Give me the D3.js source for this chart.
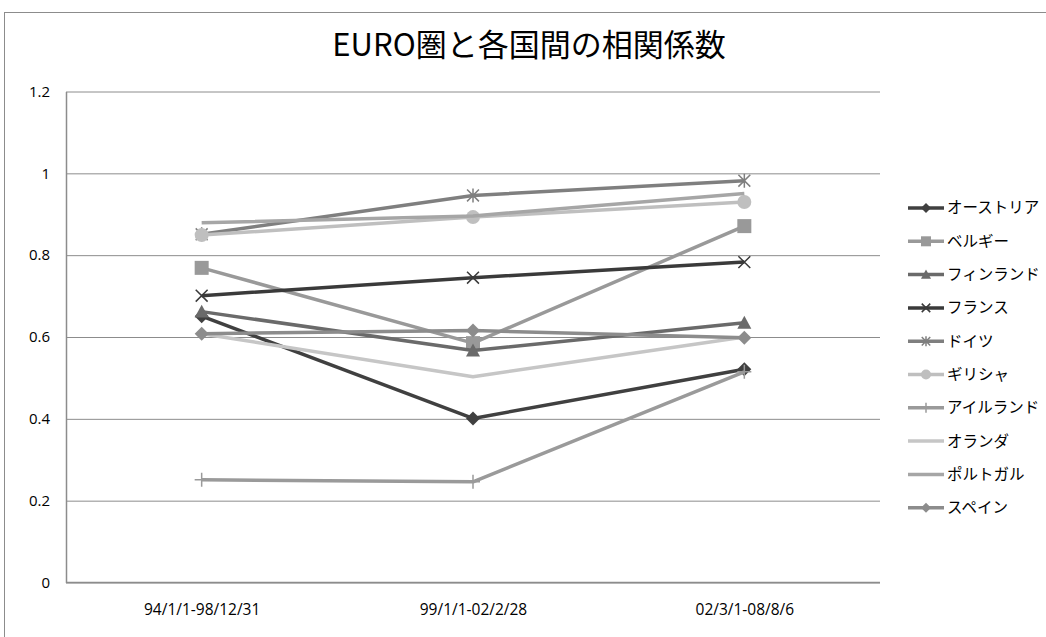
<!DOCTYPE html>
<html>
<head>
<meta charset="utf-8">
<script src="https://cdn.jsdelivr.net/npm/d3@7"></script>
<style>
  body { margin: 0; background: #fff; }
  svg { display: block; }
  .tick text { fill: #000; }
</style>
</head>
<body>
<svg id="chart"></svg>
<script>
// Chart data
const periods = ['94/1/1-98/12/31', '99/1/1-02/2/28', '02/3/1-08/8/6']
const countries = ['オーストリア', 'ベルギー', 'フィンランド', 'フランス', 'ドイツ',
  'ギリシャ', 'アイルランド', 'オランダ', 'ポルトガル', 'スペイン']
const austria = [0.651, 0.401, 0.521]
const belgium = [0.769, 0.585, 0.871]
const finland = [0.662, 0.567, 0.635]
const france = [0.701, 0.745, 0.783]
const germany = [0.851, 0.946, 0.982]
const greece = [0.849, 0.893, 0.930]
const ireland = [0.251, 0.246, 0.515]
const netherlands = [0.608, 0.503, 0.600]
const portugal = [0.879, 0.896, 0.951]
const spain = [0.608, 0.616, 0.598]
const yTicks = [0, 0.2, 0.4, 0.6, 0.8, 1, 1.2]

const seriesValues = [austria, belgium, finland, france, germany,
  greece, ireland, netherlands, portugal, spain]
const colors = ['#404040', '#999999', '#6a6a6a', '#3a3a3a', '#7f7f7f',
  '#bfbfbf', '#9a9a9a', '#c6c6c6', '#a6a6a6', '#8c8c8c']
const markers = ['diamond', 'square', 'triangle', 'x', 'asterisk',
  'circle', 'plus', 'none', 'none', 'diamond']

const svgWidth = 1046
const svgHeight = 637
const plot = { left: 66, right: 880, top: 91.5, bottom: 582.5 }

const svg = d3.select('#chart')
  .attr('width', svgWidth)
  .attr('height', svgHeight)

// Chart area border
svg.append('rect')
  .attr('x', 4.5).attr('y', 12.5)
  .attr('width', 1200).attr('height', 800)
  .attr('fill', '#fff')
  .attr('stroke', '#8c8c8c')

svg.append('text')
  .attr('x', 529)
  .attr('y', 56)
  .attr('text-anchor', 'middle')
  .style('font-family', '"Noto Sans CJK JP", sans-serif')
  .style('font-size', '31px')
  .text('EURO圏と各国間の相関係数')

const x = d3.scalePoint()
  .domain(periods)
  .range([plot.left, plot.right])
  .padding(0.5)

const y = d3.scaleLinear()
  .domain([0, 1.2])
  .range([plot.bottom, plot.top])

// Gridlines
svg.append('g')
  .attr('transform', `translate(${plot.left},0)`)
  .call(d3.axisLeft(y).tickValues(yTicks).tickSize(-(plot.right - plot.left)).tickFormat(''))
  .call(g => g.select('.domain').remove())
  .call(g => g.selectAll('.tick line').attr('stroke', '#8c8c8c'))

// Y axis
svg.append('g')
  .attr('transform', `translate(${plot.left},0)`)
  .call(d3.axisLeft(y).tickValues(yTicks).tickSize(0).tickPadding(16).tickFormat(d3.format('')))
  .call(g => g.select('.domain').attr('stroke', '#8c8c8c').attr('stroke-width', 1.5))
  .call(g => g.selectAll('.tick text')
    .style('font-family', '"Open Sans", sans-serif')
    .style('font-size', '15px'))

// X axis
svg.append('g')
  .attr('transform', `translate(0,${plot.bottom})`)
  .call(d3.axisBottom(x).tickSize(0).tickPadding(21))
  .call(g => g.select('.domain').attr('d', `M${plot.left},0H${plot.right}`)
    .attr('stroke', '#8c8c8c').attr('stroke-width', 1.5))
  .call(g => g.selectAll('.tick text')
    .style('font-family', '"Open Sans", sans-serif')
    .style('font-size', '15.5px'))

function drawMarker (g, type, color, s) {
  if (type === 'diamond') {
    g.append('path').attr('d', `M0,${-s}L${s},0L0,${s}L${-s},0Z`).attr('fill', color)
  } else if (type === 'square') {
    g.append('rect').attr('x', -s).attr('y', -s).attr('width', 2 * s).attr('height', 2 * s).attr('fill', color)
  } else if (type === 'triangle') {
    g.append('path').attr('d', `M0,${-s}L${s},${s * 0.85}L${-s},${s * 0.85}Z`).attr('fill', color)
  } else if (type === 'circle') {
    g.append('circle').attr('r', s).attr('fill', color)
  } else if (type === 'x') {
    const r = s * 0.85
    g.append('path').attr('d', `M${-r},${-r}L${r},${r}M${-r},${r}L${r},${-r}`)
      .attr('stroke', color).attr('stroke-width', 1.5)
  } else if (type === 'asterisk') {
    const r = s * 0.85
    g.append('path').attr('d', `M${-r},${-r}L${r},${r}M${-r},${r}L${r},${-r}M0,${-s}V${s}`)
      .attr('stroke', color).attr('stroke-width', 1.5)
  } else if (type === 'plus') {
    g.append('path').attr('d', `M${-s},0H${s}M0,${-s}V${s}`)
      .attr('stroke', color).attr('stroke-width', 1.5)
  }
}

const line = d3.line()
  .x((d, i) => x(periods[i]))
  .y(d => y(d))

seriesValues.forEach((values, k) => {
  const g = svg.append('g')
  g.append('path')
    .datum(values)
    .attr('d', line)
    .attr('fill', 'none')
    .attr('stroke', colors[k])
    .attr('stroke-width', 3.5)
    .attr('stroke-linejoin', 'round')
  values.forEach((v, i) => {
    const m = g.append('g').attr('transform', `translate(${x(periods[i])},${y(v)})`)
    drawMarker(m, markers[k], colors[k], 7)
  })
})

// Legend
const legend = svg.append('g')
countries.forEach((name, k) => {
  const ly = 208 + k * 33.3
  const item = legend.append('g').attr('transform', `translate(908,${ly})`)
  item.append('line')
    .attr('x1', 0).attr('x2', 36)
    .attr('stroke', colors[k]).attr('stroke-width', 3.5)
  const m = item.append('g').attr('transform', 'translate(18,0)')
  drawMarker(m, markers[k], colors[k], 5)
  item.append('text')
    .attr('x', 39)
    .attr('y', 0)
    .attr('dy', '0.35em')
    .style('font-family', '"Noto Sans CJK JP", sans-serif')
    .style('font-size', '15.5px')
    .text(name)
})
</script>
</body>
</html>
